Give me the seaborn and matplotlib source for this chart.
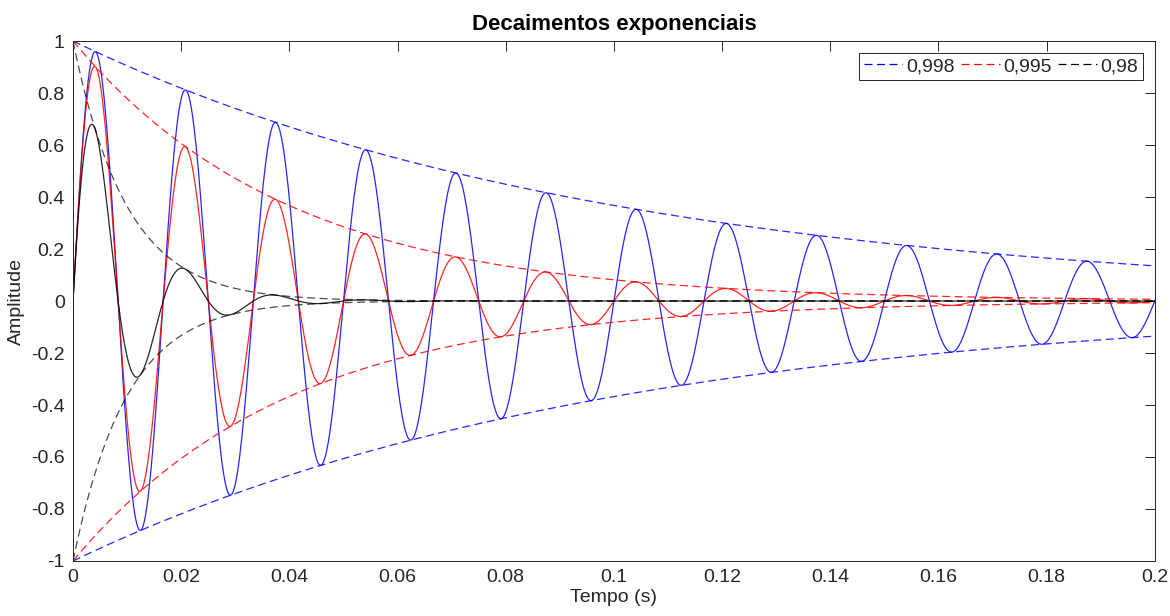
import numpy as np
import pandas as pd
import matplotlib
matplotlib.use("Agg")
import matplotlib.pyplot as plt
import seaborn as sns
from matplotlib.lines import Line2D

# ---- data (parameters) ----
decay_factors = [0.998, 0.995, 0.98]
legend_labels = ["0,998", "0,995", "0,98"]
signal_freq_hz = 60
sample_rate_hz = 5000
n_samples = 1001
x_ticks = [0, 0.02, 0.04, 0.06, 0.08, 0.1, 0.12, 0.14, 0.16, 0.18, 0.2]
x_tick_labels = ["0", "0.02", "0.04", "0.06", "0.08", "0.1", "0.12", "0.14", "0.16", "0.18", "0.2"]
y_ticks = [-1, -0.8, -0.6, -0.4, -0.2, 0, 0.2, 0.4, 0.6, 0.8, 1]
y_tick_labels = ["-1", "-0.8", "-0.6", "-0.4", "-0.2", "0", "0.2", "0.4", "0.6", "0.8", "1"]

colors = ["#0000FF", "#FF0000", "#000000"]

sns.set_style("white")
plt.rcParams["font.family"] = ["Liberation Sans", "DejaVu Sans"]

n = np.arange(n_samples)
t = n / sample_rate_hz

frames = []
for r, lab in zip(decay_factors, legend_labels):
    env = r ** n
    sig = env * np.sin(2 * np.pi * signal_freq_hz * t)
    frames.append(pd.DataFrame({"t": t, "sig": sig, "env": env, "neg": -env, "label": lab}))
df = pd.concat(frames, ignore_index=True)

fig = plt.figure(figsize=(11.7, 6.16), dpi=100)
ax = fig.add_axes([0.0624, 0.0893, 0.9246, 0.8441])

lw = 0.9
dash = (6.4, 3.6)
for lab, c in zip(legend_labels, colors):
    d = df[df["label"] == lab]
    is_black = c == "#000000"
    a = 0.7 if is_black else 0.85
    sns.lineplot(data=d, x="t", y="env", color=c, lw=lw, ax=ax, estimator=None, sort=False,
                 legend=False, alpha=a).lines[-1].set_dashes(dash)
    sns.lineplot(data=d, x="t", y="neg", color=c, lw=lw, ax=ax, estimator=None, sort=False,
                 legend=False, alpha=a).lines[-1].set_dashes(dash)
    sns.lineplot(data=d, x="t", y="sig", color=c, lw=lw, ax=ax,
                 estimator=None, sort=False, legend=False, alpha=0.85)

ax.set_xlim(0, 0.2)
ax.set_ylim(-1, 1)
ax.set_xticks(x_ticks)
ax.set_xticklabels(x_tick_labels)
ax.set_yticks(y_ticks)
ax.set_yticklabels(y_tick_labels)

tick_col = "#262626"
ax.tick_params(direction="in", length=7, width=0.7, top=True, right=True,
               labelsize=14, colors=tick_col, pad=6)
for s in ax.spines.values():
    s.set_visible(True)
    s.set_color(tick_col)
    s.set_linewidth(0.7)

ax.set_xlabel("Tempo (s)", fontsize=14, color=tick_col, labelpad=2)
ax.set_ylabel("Amplitude", fontsize=14, color=tick_col, labelpad=4)
ax.set_title("Decaimentos exponenciais", fontsize=16, fontweight="bold", color="black", pad=8)

handles = [Line2D([0], [0], color=c, lw=lw, dashes=dash) for c in colors]
leg = ax.legend(handles, legend_labels, loc="upper right", ncol=3, fontsize=14,
                frameon=True, fancybox=False, edgecolor="#262626", framealpha=1,
                handlelength=2.0, handletextpad=0.2, columnspacing=0.3,
                borderpad=0.25, borderaxespad=0.6)
leg.get_frame().set_linewidth(0.7)

fig.savefig("out.png", dpi=100)
